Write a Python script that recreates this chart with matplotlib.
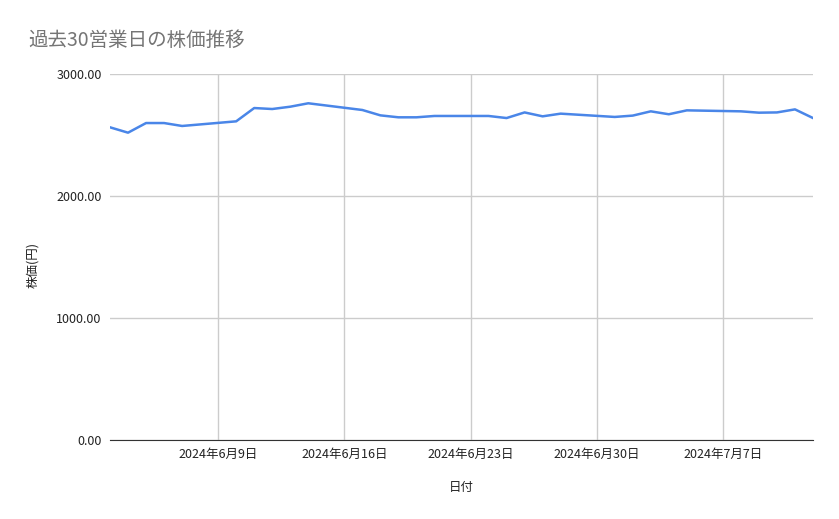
import matplotlib
matplotlib.use("Agg")
import matplotlib.pyplot as plt
import pandas as pd

plt.rcParams['font.family'] = ['Noto Sans CJK JP', 'DejaVu Sans']

# 30 business days, 2024-06-03 .. 2024-07-12
dates = pd.bdate_range("2024-06-03", "2024-07-12")
prices = [
    2563, 2519, 2598, 2598, 2574,
    2612, 2721, 2713, 2732, 2760,
    2705, 2661, 2645, 2645, 2656,
    2656, 2639, 2685, 2653, 2675,
    2648, 2659, 2694, 2670, 2702,
    2694, 2683, 2685, 2710, 2639,
]
tick_dates = pd.to_datetime(["2024-06-09", "2024-06-16", "2024-06-23",
                             "2024-06-30", "2024-07-07"])
tick_labels = [f"{d.year}年{d.month}月{d.day}日" for d in tick_dates]
y_ticks = [0, 1000, 2000, 3000]

fig = plt.figure(figsize=(8.39, 5.19), dpi=100)
ax = fig.add_axes([110 / 839, 1 - 440 / 519, 703 / 839, 366 / 519])

ax.plot(dates, prices, color="#4a86e8", lw=1.8, solid_joinstyle="round")

ax.set_ylim(0, 3000)
ax.set_yticks(y_ticks)
ax.set_yticklabels([f"{v:.2f}" for v in y_ticks])
ax.set_xlim(dates[0], dates[-1])
ax.set_xticks(tick_dates)
ax.set_xticklabels(tick_labels)

ax.grid(True, color="#cccccc", lw=1)
ax.set_axisbelow(True)
for s in ["top", "right", "left"]:
    ax.spines[s].set_visible(False)
ax.spines["bottom"].set_color("#333333")
ax.tick_params(axis="both", length=0, labelsize=9, colors="#222222")
ax.tick_params(axis="y", pad=6)
ax.tick_params(axis="x", pad=6)

ax.set_xlabel("日付", fontsize=9, color="#222222", labelpad=14)
fig.text(33 / 839, 1 - 265 / 519, "株価(円)", fontsize=9, color="#222222",
         rotation=90, va="center", ha="center")
fig.text(28 / 839, 1 - 40 / 519, "過去30営業日の株価推移", fontsize=14,
         color="#757575", va="center", ha="left")

fig.savefig("out.png", dpi=100)
